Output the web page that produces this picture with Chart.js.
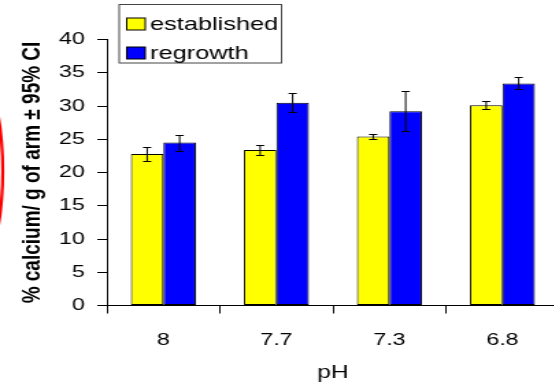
<!DOCTYPE html>
<html>
<head>
<meta charset="utf-8">
<script src="https://cdn.jsdelivr.net/npm/chart.js@4/dist/chart.umd.min.js"></script>
<style>
  html, body { margin: 0; padding: 0; background: #fff; overflow: hidden; }
  /* the original picture is stretched sideways, so the canvas is too */
  #calcium-chart { display: block; transform: scaleX(1.37); transform-origin: 0 0; }
</style>
</head>
<body>
<canvas id="calcium-chart" width="410" height="383"></canvas>
<script>
// data
const phLabels = ['8', '7.7', '7.3', '6.8'];
const establishedValues = [22.8, 23.4, 25.4, 30.1];
const regrowthValues = [24.5, 30.5, 29.2, 33.4];
const establishedCI = [1.05, 0.7, 0.4, 0.6];
const regrowthCI = [1.2, 1.4, 3.0, 0.9];
const yTicks = [0, 5, 10, 15, 20, 25, 30, 35, 40];

const FONT = '"Liberation Sans", Arial, sans-serif';
const ciSets = [establishedCI, regrowthCI];

// +/- 95% CI whiskers on top of each bar
const errorBars = {
    id: 'errorBars',
    afterDatasetsDraw(chart) {
        const ctx = chart.ctx;
        const yScale = chart.scales.y;
        ctx.save();
        ctx.strokeStyle = '#000';
        ctx.lineWidth = 1;
        chart.data.datasets.forEach((ds, i) => {
            chart.getDatasetMeta(i).data.forEach((bar, j) => {
                const top = Math.round(yScale.getPixelForValue(ds.data[j] + ciSets[i][j])) + 0.5;
                const bottom = Math.round(yScale.getPixelForValue(ds.data[j] - ciSets[i][j])) + 0.5;
                const x = bar.x;
                ctx.beginPath();
                ctx.moveTo(x, top);
                ctx.lineTo(x, bottom);
                ctx.moveTo(x - 3, top);
                ctx.lineTo(x + 3, top);
                ctx.moveTo(x - 3, bottom);
                ctx.lineTo(x + 3, bottom);
                ctx.stroke();
            });
        });
        ctx.restore();
    }
};

// boxed legend sitting inside the top left of the plot
const boxLegend = {
    id: 'boxLegend',
    afterDraw(chart) {
        const ctx = chart.ctx;
        ctx.save();
        ctx.fillStyle = '#fff';
        ctx.fillRect(87, 4.5, 118.5, 58.5);
        ctx.strokeStyle = '#444';
        ctx.lineWidth = 1;
        ctx.strokeRect(87, 4.5, 118.5, 58.5);
        const baselines = [29.5, 58.5];
        chart.data.datasets.forEach((ds, i) => {
            const b = baselines[i];
            ctx.fillStyle = ds.backgroundColor;
            ctx.fillRect(92.5, b - 11.5, 13.5, 12);
            ctx.strokeStyle = '#000';
            ctx.strokeRect(92.5, b - 11.5, 13.5, 12);
            ctx.fillStyle = '#000';
            ctx.font = '18.5px ' + FONT;
            ctx.textBaseline = 'alphabetic';
            ctx.textAlign = 'left';
            ctx.fillText(ds.label, 109.5, b);
        });
        ctx.restore();
    }
};

// red pen mark at the left edge of the scan
const redMark = {
    id: 'redMark',
    afterDraw(chart) {
        const ctx = chart.ctx;
        ctx.save();
        ctx.strokeStyle = '#ff0000';
        ctx.lineWidth = 2.2;
        ctx.beginPath();
        ctx.ellipse(-60, 171, 62, 170, 0, 0, Math.PI * 2);
        ctx.stroke();
        ctx.restore();
    }
};

new Chart(document.getElementById('calcium-chart'), {
    type: 'bar',
    data: {
        labels: phLabels,
        datasets: [{
            label: 'established',
            data: establishedValues,
            backgroundColor: '#ffff00',
            borderColor: '#000',
            borderWidth: 1,
            borderSkipped: false
        }, {
            label: 'regrowth',
            data: regrowthValues,
            backgroundColor: '#0000ff',
            borderColor: '#000',
            borderWidth: 1,
            borderSkipped: false
        }]
    },
    options: {
        responsive: false,
        devicePixelRatio: 1,
        animation: false,
        categoryPercentage: 0.575,
        barPercentage: 1.0,
        layout: { padding: { top: 39.5, right: 2, left: 0, bottom: 0 } },
        plugins: {
            legend: { display: false },
            tooltip: { enabled: false }
        },
        scales: {
            x: {
                afterFit: (scale) => { scale.height = 77.5; },
                grid: {
                    display: true,
                    offset: true,
                    drawOnChartArea: false,
                    drawTicks: true,
                    tickLength: 8,
                    color: '#000'
                },
                border: { display: true, color: '#000', width: 1 },
                ticks: {
                    color: '#000',
                    padding: 17,
                    font: { family: FONT, size: 17 }
                },
                title: {
                    display: true,
                    text: 'pH',
                    color: '#000',
                    padding: { top: 0, bottom: -1 },
                    font: { family: FONT, size: 18 }
                }
            },
            y: {
                min: 0,
                max: 40,
                afterFit: (scale) => { scale.width = 78; },
                afterBuildTicks: (scale) => { scale.ticks = yTicks.map(v => ({ value: v })); },
                grid: {
                    display: true,
                    drawOnChartArea: false,
                    drawTicks: true,
                    tickLength: 7,
                    color: '#000'
                },
                border: { display: true, color: '#000', width: 1 },
                ticks: {
                    color: '#000',
                    padding: 9,
                    font: { family: FONT, size: 17 }
                },
                title: {
                    display: true,
                    text: '% calcium/ g of arm ± 95% CI',
                    color: '#000',
                    padding: { top: 12, bottom: 0 },
                    font: { family: FONT, size: 19, weight: 'bold' }
                }
            }
        }
    },
    plugins: [errorBars, boxLegend, redMark]
});
</script>
</body>
</html>
